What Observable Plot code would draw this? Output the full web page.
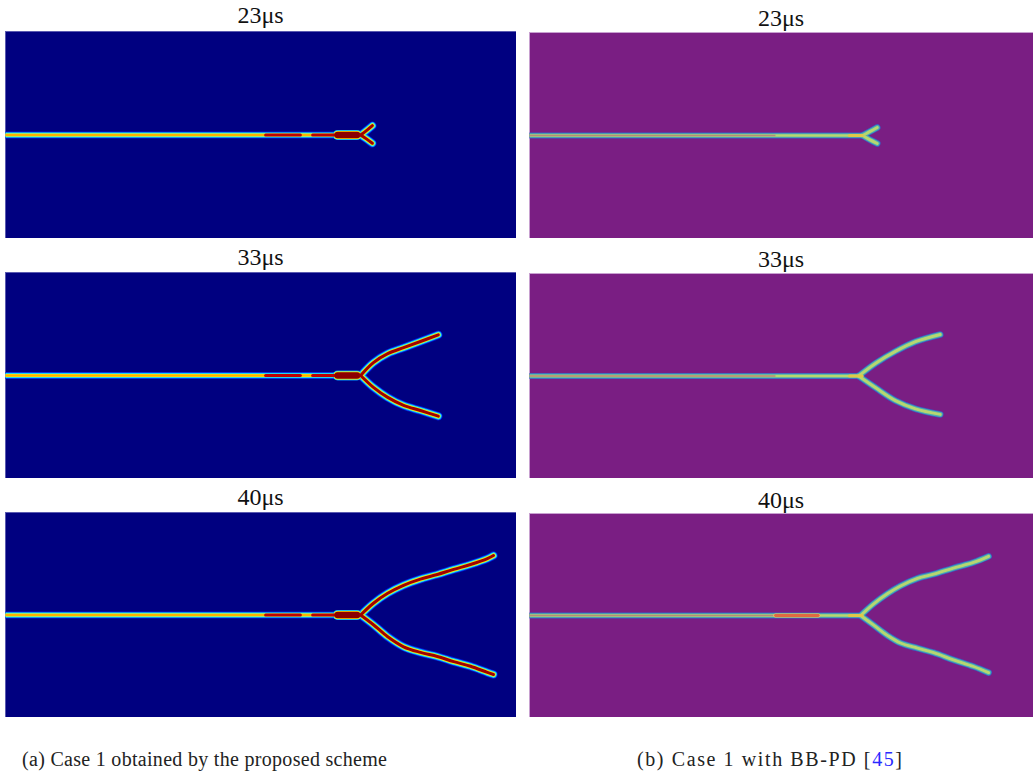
<!DOCTYPE html>
<html>
<head>
<meta charset="utf-8">
<script src="https://cdn.jsdelivr.net/npm/d3@7"></script>
<script src="https://cdn.jsdelivr.net/npm/@observablehq/plot@0.6"></script>
<style>
  body { margin: 0; background: #fff; }
  #root { position: relative; width: 1033px; height: 778px; overflow: hidden; }
  .title { position: absolute; text-align: center; font-family: "Liberation Serif", serif; font-size: 24px; line-height: 24px; color: #111; }
  .panel { position: absolute; }
  .panel svg { display: block; }
  .cap { position: absolute; font-family: "Liberation Serif", serif; font-size: 20px; line-height: 20px; color: #222; white-space: nowrap; }
  .cap .ref { color: #2a2aff; }
</style>
</head>
<body>
<div id="root"></div>
<script>
// ---- text ----
const times = ["23μs", "33μs", "40μs"];
const captionA = "(a) Case 1 obtained by the proposed scheme";
const captionB = "(b) Case 1 with BB-PD [";
const captionRef = "45";

// ---- plate (mm) ----
const plateX = [0, 100];
const plateY = [-20, 20];

// ---- (a) proposed scheme: crack tip / branch data (mm) ----
const aBranchX = [69.5, 69.5, 69.5];
const aRedSegs = [[50.9, 57.7], [60.1, 64.4]];
const aBlob = [[65.0, 68.8]];
const a1Up = [[69.5, 0], [70.7, 0.9], [71.8, 1.8]];
const a1Lo = [[69.5, 0], [70.7, -0.8], [71.8, -1.6]];
const a2Up = [[69.5, 0], [72.0, 2.5], [74.8, 4.25], [77.9, 5.4], [81.2, 6.6], [84.7, 7.9]];
const a2Lo = [[69.5, 0], [72.0, -2.3], [74.8, -4.25], [77.9, -5.8], [81.2, -6.8], [84.7, -7.9]];
const a3Up = [[69.5, 0], [72.0, 2.3], [74.8, 4.25], [77.9, 5.8], [81.2, 7.0], [84.5, 7.9], [87.7, 8.9], [91.0, 9.85], [94.3, 11.0], [95.5, 11.6]];
const a3Lo = [[69.5, 0], [72.0, -1.9], [74.8, -4.25], [77.9, -6.2], [81.2, -7.3], [84.5, -8.1], [87.7, -9.1], [91.0, -10.0], [94.3, -11.2], [95.5, -11.6]];

// ---- (b) BB-PD ----
const bBranchX = [66.1, 65.3, 65.7];
const bRedCore = [[0, 48.8]];
const bHot = [[63.5, 66.0]];
const bHot3 = [[48.8, 57.3]];
const b1Up = [[66.1, 0], [67.5, 0.75], [69.0, 1.55]];
const b1Lo = [[66.1, 0], [67.5, -0.8], [69.0, -1.55]];
const b2Up = [[65.3, 0], [68.7, 2.5], [72.6, 4.8], [76.6, 6.7], [81.5, 8.1]];
const b2Lo = [[65.3, 0], [68.7, -2.3], [72.6, -4.8], [76.6, -6.4], [81.5, -7.5]];
const b3Up = [[65.7, 0], [68.3, 2.3], [71.0, 4.25], [73.6, 5.8], [77.0, 7.3], [80.2, 8.1], [84.1, 9.3], [88.1, 10.4], [91.1, 11.6]];
const b3Lo = [[65.7, 0], [68.3, -1.9], [71.0, -3.9], [73.6, -5.4], [77.0, -6.4], [80.2, -7.3], [84.1, -8.7], [88.1, -10.0], [91.1, -11.2]];

const aBranches = [[a1Up, a1Lo], [a2Up, a2Lo], [a3Up, a3Lo]];
const bBranches = [[b1Up, b1Lo], [b2Up, b2Lo], [b3Up, b3Lo]];

const root = document.getElementById("root");

function segLinks(segs, stroke, w, cap = "butt") {
  return Plot.link(segs, {x1: d => d[0], x2: d => d[1], y1: () => 0, y2: () => 0, stroke, strokeWidth: w, strokeLinecap: cap});
}
function path(pts, stroke, w) {
  return Plot.line(pts, {x: d => d[0], y: d => d[1], stroke, strokeWidth: w, curve: "catmull-rom", strokeLinecap: "round", strokeLinejoin: "round"});
}

function leftPanel(i, w, h) {
  const bx = aBranchX[i];
  const main = [[0, bx]];
  const [up, lo] = aBranches[i];
  const marks = [Plot.frame({fill: "#000080", stroke: "#5a5ab0", strokeWidth: 1})];
  const layers = [["#0018d8", 8.5], ["#0090ff", 7], ["#30f0e0", 5.8], ["#ffe800", 4.4]];
  for (const [c, sw] of layers) {
    marks.push(segLinks(main, c, sw - 1.3));
    marks.push(path(up, c, sw));
    marks.push(path(lo, c, sw));
  }
  marks.push(segLinks(aBlob, "#0090ff", 10, "round"), segLinks(aBlob, "#30f0e0", 9, "round"), segLinks(aBlob, "#ffd800", 8, "round"));
  marks.push(segLinks(main, "#ffb000", 1.9));
  marks.push(segLinks(aRedSegs, "#c00000", 3, "round"));
  marks.push(segLinks(aBlob, "#8c0000", 6.4, "round"));
  marks.push(path(up, "#a00000", 3));
  marks.push(path(lo, "#a00000", 3));
  return Plot.plot({width: w, height: h, margin: 0, x: {domain: plateX, axis: null}, y: {domain: plateY, axis: null}, marks});
}

function rightPanel(i, w, h) {
  const bx = bBranchX[i];
  const main = [[0, bx]];
  const [up, lo] = bBranches[i];
  const marks = [Plot.frame({fill: "#7a1e83", stroke: "#c8a0d0", strokeWidth: 1})];
  const layers = [["#3a5ec4", 6.6], ["#4cb0b0", 5], ["#b8d670", 2.9]];
  for (const [c, sw] of layers) {
    marks.push(segLinks(main, c, sw - 0.6));
    marks.push(path(up, c, sw));
    marks.push(path(lo, c, sw));
  }
  marks.push(segLinks(bRedCore, "#b88a78", 1.4));
  marks.push(segLinks(bHot, "#e0c848", 3.2, "round"));
  if (i === 2) marks.push(segLinks(bHot3, "#f0d060", 4.2, "round"), segLinks(bHot3, "#e06a40", 2.8, "round"));
  return Plot.plot({width: w, height: h, margin: 0, x: {domain: plateX, axis: null}, y: {domain: plateY, axis: null}, marks});
}

function place(node, left, top) {
  const d = document.createElement("div");
  d.className = "panel";
  d.style.left = left + "px";
  d.style.top = top + "px";
  d.appendChild(node);
  root.appendChild(d);
}
function title(text, left, width, cy) {
  const d = document.createElement("div");
  d.className = "title";
  d.style.left = left + "px";
  d.style.width = width + "px";
  d.style.top = (cy - 12) + "px";
  d.textContent = text;
  root.appendChild(d);
}

const leftTops = [31, 272, 512], leftH = [207, 206, 205];
const rightTops = [32, 273, 513], rightH = [206, 205, 204];
const leftTitleY = [15, 257, 497], rightTitleY = [18, 259, 500];

times.forEach((t, i) => {
  title(t, 5, 511, leftTitleY[i]);
  title(t, 529, 504, rightTitleY[i]);
  place(leftPanel(i, 511, leftH[i]), 5, leftTops[i]);
  place(rightPanel(i, 504, rightH[i]), 529, rightTops[i]);
});

const ca = document.createElement("div");
ca.className = "cap";
ca.style.left = "22px"; ca.style.top = "749px"; ca.style.letterSpacing = "0.3px";
ca.textContent = captionA;
root.appendChild(ca);

const cb = document.createElement("div");
cb.className = "cap";
cb.style.left = "637px"; cb.style.top = "749px"; cb.style.letterSpacing = "1.6px";
cb.append(captionB);
const r = document.createElement("span"); r.className = "ref"; r.textContent = captionRef;
cb.append(r, "]");
root.appendChild(cb);
</script>
</body>
</html>
